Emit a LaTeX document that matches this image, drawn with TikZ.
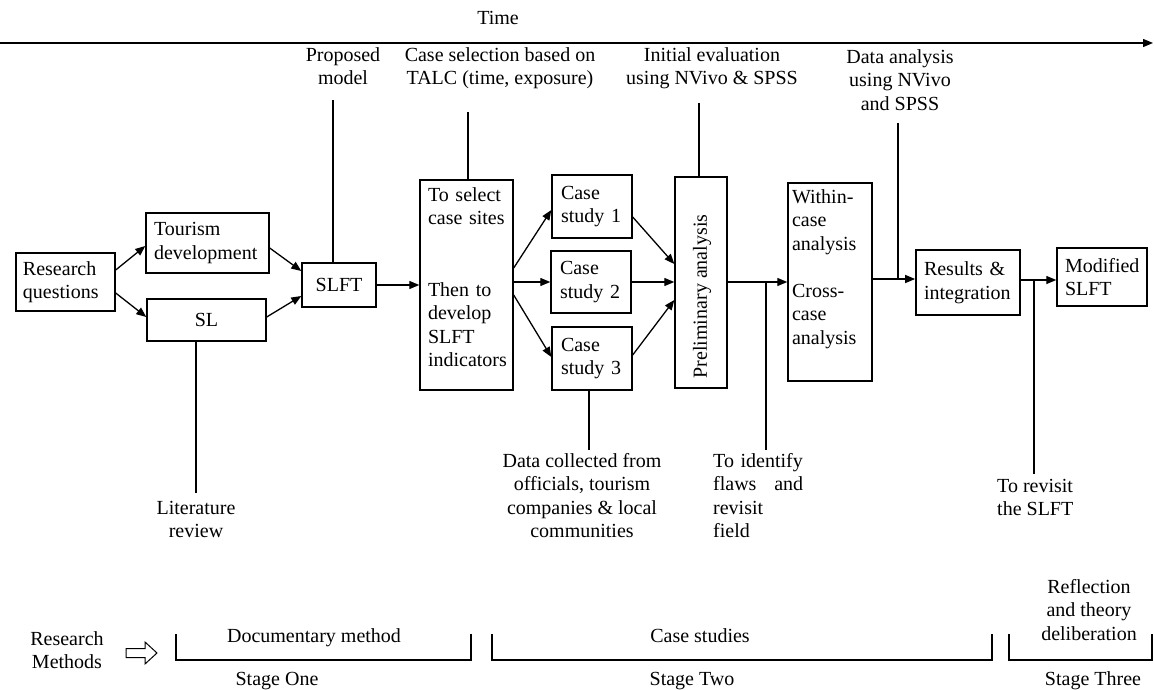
\documentclass[tikz,border=0pt]{standalone}
\usepackage{fontspec}
\setmainfont{Liberation Serif}
\usetikzlibrary{arrows.meta}
\tikzset{
  every node/.style={font=\fontsize{20}{23.5}\selectfont, inner sep=0pt},
  box/.style={draw, line width=1.4pt, inner sep=0pt},
  lbox/.style={box, align=left},
  conn/.style={line width=1.3pt},
  arr/.style={conn, -{Triangle[length=10pt,width=8pt]}},
  lbl/.style={align=center, anchor=north},
  bracket/.style={line width=1.3pt},
}
\begin{document}
\begin{tikzpicture}[x=1pt,y=-1pt]
\useasboundingbox (0,0) rectangle (1154,690);

% time axis
\node[anchor=base] (time) at (498,25) {Time};
\coordinate (ts) at (0,43);
\coordinate (te) at (1153,43);
\draw[arr] (ts) -- (te);

% boxes
\node[lbox, minimum width=99pt, minimum height=58pt, text width=85pt, inner xsep=7pt] (rq) at (65.5,282) {Research\\questions};
\node[lbox, minimum width=123pt, minimum height=60pt, text width=107pt, inner xsep=8pt] (td) at (207.5,243) {Tourism\\development};
\node[box, minimum width=119pt, minimum height=42pt] (sl) at (206.5,320) {SL};
\node[box, minimum width=74pt, minimum height=44pt] (slft) at (339,285) {SLFT};
\node[lbox, minimum width=93pt, minimum height=210pt, text width=77pt, inner xsep=8pt] (sel) at (466.5,285)
  {To select\\case sites\\[48pt]Then to\\develop\\SLFT\\indicators\\[-7.5pt]\mbox{}};
\node[lbox, minimum width=80pt, minimum height=63pt, text width=62pt, inner xsep=9pt] (cs1) at (592,206.5) {Case\\study 1};
\node[lbox, minimum width=80pt, minimum height=62pt, text width=62pt, inner xsep=9pt] (cs2) at (591,282) {Case\\study 2};
\node[lbox, minimum width=80pt, minimum height=63pt, text width=62pt, inner xsep=9pt] (cs3) at (592,358.5) {Case\\study 3};
\node[box, minimum width=52pt, minimum height=211pt] (pre) at (701,282.5) {};
\node[rotate=90] (pretxt) at (702,296.5) {Preliminary analysis};
\node[lbox, minimum width=84pt, minimum height=198pt, text width=76pt, inner xsep=4pt] (wc) at (830,282)
  {Within-\\case\\analysis\\[23.5pt]Cross-\\case\\analysis\\[6.5pt]\mbox{}};
\node[lbox, minimum width=104pt, minimum height=65pt, text width=88pt, inner xsep=8pt, line width=1.7pt] (res) at (968,282.5) {Results \&\\integration};
\node[lbox, minimum width=90pt, minimum height=58pt, text width=74pt, inner xsep=8pt] (mod) at (1102,277) {Modified\\SLFT};

% arrows
\draw[arr] (rq.east |- 0,270) -- (td.west |- 0,246);
\draw[arr] (rq.east |- 0,293) -- (sl.west |- 0,317);
\draw[arr] (td.east |- 0,248) -- (slft.west |- 0,271);
\draw[arr] (sl.east |- 0,317) -- (slft.west |- 0,296);
\draw[arr] (slft.east) -- (sel.west |- slft.east);
\draw[arr] (sel.east |- 0,268) -- (cs1.west |- 0,210);
\draw[arr] (sel.east |- cs2.west) -- (cs2.west);
\draw[arr] (sel.east |- 0,295) -- (cs3.west |- 0,357);
\draw[arr] (cs1.east |- 0,217) -- (pre.west |- 0,264);
\draw[arr] (cs2.east) -- (pre.west |- cs2.east);
\draw[arr] (cs3.east |- 0,355) -- (pre.west |- 0,300);
\draw[arr] (pre.east |- wc.west) -- (wc.west);
\draw[arr] (wc.east |- 0,279) -- (res.west |- 0,279);
\draw[arr] (res.east |- 0,280) -- (mod.west |- 0,280);

% labels
\node[lbl] (pm) at (343,47) {Proposed\\model};
\node[lbl] (csl) at (500,47) {Case selection based on\\TALC (time, exposure)};
\node[lbl] (ie) at (712,47) {Initial evaluation\\using NVivo \& SPSS};
\node[lbl] (da) at (900,49) {Data analysis\\using NVivo\\and SPSS};
\node[lbl] (lit) at (196,501) {Literature\\review};
\node[lbl] (dc) at (582,453) {Data collected from\\officials, tourism\\companies \& local\\communities};
\node[anchor=north west, align=left, text width=90pt] (tid) at (713,453) {To identify\\flaws\hfill and\\revisit\\field};
\node[anchor=north west, align=left] (trv) at (997,479) {To revisit\\the SLFT};

% label lines
\coordinate (pmL) at (333,100);
\coordinate (litL) at (196,493);
\coordinate (cslL) at (468,112);
\coordinate (dcL) at (589,450);
\coordinate (ieL) at (699,103);
\coordinate (j1) at (766,282);
\coordinate (tidL) at (766,450);
\coordinate (j2) at (898,279);
\coordinate (daL) at (898,123);
\coordinate (j3) at (1034,280);
\coordinate (trvL) at (1034,474);
\draw[conn] (slft.north -| pmL) -- (pmL);
\draw[conn] (sl.south -| litL) -- (litL);
\draw[conn] (sel.north -| cslL) -- (cslL);
\draw[conn] (cs3.south -| dcL) -- (dcL);
\draw[conn] (pre.north -| ieL) -- (ieL);
\draw[conn] (j1) -- (tidL);
\draw[conn] (j2) -- (daL);
\draw[conn] (j3) -- (trvL);

% research methods
\node[lbl] (rm) at (67,631) {Research\\Methods};
\draw[line width=1pt] (126,648.5) -- (145,648.5) -- (145,642) -- (157,653) -- (145,664) -- (145,657.5) -- (126,657.5) -- cycle;

\draw[bracket] (176,634) -- (176,660) -- (471,660) -- (471,634);
\draw[bracket] (492,634) -- (492,660) -- (992,660) -- (992,634);
\draw[bracket] (1009,634) -- (1009,660) -- (1152,660) -- (1152,634);

\node[anchor=base] (m1) at (314,642) {Documentary method};
\node[anchor=base] (m2) at (700,642) {Case studies};
\node[lbl] (m3) at (1089,579) {Reflection\\and theory\\deliberation};
\node[anchor=base] (s1) at (277,685) {Stage One};
\node[anchor=base] (s2) at (692,685) {Stage Two};
\node[anchor=base] (s3) at (1093,685) {Stage Three};
\end{tikzpicture}
\end{document}
